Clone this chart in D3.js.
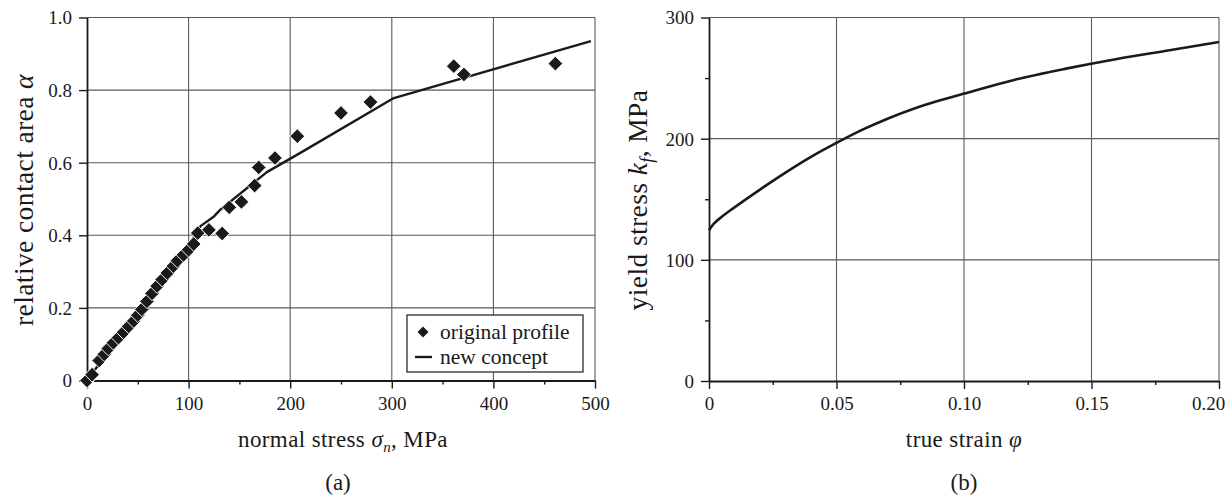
<!DOCTYPE html>
<html>
<head>
<meta charset="utf-8">
<script src="https://cdn.jsdelivr.net/npm/d3@7"></script>
<style>
  html, body { margin: 0; padding: 0; background: #fff; }
  svg text { font-family: "Liberation Serif", "DejaVu Serif", serif; fill: #1a1a1a; }
</style>
</head>
<body>
<svg id="fig" width="1232" height="498"></svg>
<script>
// ---- panel (a): relative contact area vs normal stress ----
const profileStress = [0, 5, 12, 17, 21, 26, 31, 36, 41, 46, 50, 54, 59, 64, 69, 74, 79, 85, 89, 95, 100, 105, 109, 120, 133, 140, 152, 165, 169, 185, 207, 250, 279, 361, 371, 461];
const profileArea   = [0, 0.016, 0.055, 0.072, 0.088, 0.104, 0.118, 0.133, 0.149, 0.164, 0.180, 0.196, 0.218, 0.240, 0.260, 0.278, 0.296, 0.315, 0.330, 0.346, 0.360, 0.376, 0.406, 0.415, 0.405, 0.477, 0.492, 0.537, 0.587, 0.613, 0.673, 0.737, 0.767, 0.866, 0.843, 0.873];
const conceptStress = [0, 50, 100, 112, 125, 131, 177, 210, 302, 496];
const conceptArea   = [0, 0.19, 0.372, 0.426, 0.452, 0.47, 0.574, 0.627, 0.778, 0.935];
const stressTicks = [0, 100, 200, 300, 400, 500];
const stressMinor = [50, 150, 250, 350, 450];
const stressTickLabels = ["0", "100", "200", "300", "400", "500"];
const areaTicks = [0, 0.2, 0.4, 0.6, 0.8, 1.0];
const areaTickLabels = ["0", "0.2", "0.4", "0.6", "0.8", "1.0"];

// ---- panel (b): flow curve ----
const strain = [0, 0.002, 0.005, 0.01, 0.02, 0.03, 0.04, 0.05, 0.06, 0.07, 0.08, 0.09, 0.10, 0.12, 0.14, 0.16, 0.18, 0.20];
const yieldStress = [124.5, 130, 135.5, 143.3, 158, 172, 185, 196.5, 207.2, 216.5, 224.5, 231.2, 237.2, 248.7, 257.8, 265.8, 272.8, 279.8];
const strainTicks = [0, 0.05, 0.10, 0.15, 0.20];
const strainMinor = [0.025, 0.075, 0.125, 0.175];
const strainTickLabels = ["0", "0.05", "0.10", "0.15", "0.20"];
const kfTicks = [0, 100, 200, 300];
const kfMinor = [50, 150, 250];
const kfTickLabels = ["0", "100", "200", "300"];

const svg = d3.select("#fig");
const FONT = '"Liberation Serif", "DejaVu Serif", serif';
const FS = 19;

function panel(opts) {
  const g = svg.append("g");
  const x = opts.x, y = opts.y;
  const [x0, x1] = x.range();
  const [y0, y1] = y.range();

  // grid
  g.append("g").selectAll("line").data(opts.xTicks.slice(1)).join("line")
    .attr("x1", d => x(d)).attr("x2", d => x(d)).attr("y1", y0).attr("y2", y1)
    .attr("stroke", "#5a5a5a").attr("stroke-width", 1.1);
  g.append("g").selectAll("line").data(opts.yTicks.slice(1)).join("line")
    .attr("y1", d => y(d)).attr("y2", d => y(d)).attr("x1", x0).attr("x2", x1)
    .attr("stroke", "#5a5a5a").attr("stroke-width", 1.1);

  // bottom axis
  const xa = g.append("g").attr("transform", `translate(0,${y0})`)
    .call(d3.axisBottom(x).tickValues(opts.xTicks).tickSize(8).tickSizeOuter(0)
      .tickFormat((d, i) => opts.xLabels[i]));
  const xm = g.append("g").attr("transform", `translate(0,${y0})`)
    .call(d3.axisBottom(x).tickValues(opts.xMinor).tickSize(4).tickFormat(""));
  xm.select(".domain").remove();
  // left axis
  const ya = g.append("g").attr("transform", `translate(${x0},0)`)
    .call(d3.axisLeft(y).tickValues(opts.yTicks).tickSize(8).tickSizeOuter(0)
      .tickFormat((d, i) => opts.yLabels[i]));
  if (opts.yMinor) {
    const ym = g.append("g").attr("transform", `translate(${x0},0)`)
      .call(d3.axisLeft(y).tickValues(opts.yMinor).tickSize(4).tickFormat(""));
    ym.select(".domain").remove();
  }
  [xa, ya].forEach(a => {
    a.attr("font-family", FONT);
    a.select(".domain").attr("stroke", "#1a1a1a").attr("stroke-width", 1.8);
  });
  g.selectAll(".tick line").attr("stroke", "#1a1a1a").attr("stroke-width", 1.4);
  g.selectAll(".tick text").attr("font-size", FS).style("font-family", FONT).attr("fill", "#1a1a1a");
  xa.selectAll(".tick text").attr("dy", null).attr("y", 29);
  ya.selectAll(".tick text").attr("x", -15).attr("dy", "0.34em");
  // keep the last x label inside the figure
  if (opts.lastLabelShift) {
    xa.selectAll(".tick text").filter((d, i, n) => i === n.length - 1).attr("x", -opts.lastLabelShift);
  }
  return g;
}

// ---------- (a) ----------
const xA = d3.scaleLinear().domain([0, 500]).range([87, 595]);
const yA = d3.scaleLinear().domain([0, 1]).range([380.5, 17.5]);
const gA = panel({ x: xA, y: yA, xTicks: stressTicks, xMinor: stressMinor, xLabels: stressTickLabels,
  yTicks: areaTicks, yLabels: areaTickLabels });

const concept = conceptStress.map((s, i) => [s, conceptArea[i]]);
gA.append("path").datum(concept)
  .attr("fill", "none").attr("stroke", "#1a1a1a").attr("stroke-width", 2.4)
  .attr("stroke-linejoin", "round")
  .attr("d", d3.line().x(d => xA(d[0])).y(d => yA(d[1])));

const diamond = d3.symbol(d3.symbolSquare, 108);
gA.append("g").selectAll("path").data(profileStress.map((s, i) => [s, profileArea[i]])).join("path")
  .attr("d", diamond)
  .attr("transform", d => `translate(${xA(d[0])},${yA(d[1])}) rotate(45)`)
  .attr("fill", "#1a1a1a").attr("stroke", "#fff").attr("stroke-width", 0.9);

// legend
const lg = gA.append("g");
lg.append("rect").attr("x", 407).attr("y", 315).attr("width", 176).attr("height", 57)
  .attr("fill", "#fff").attr("stroke", "#1a1a1a").attr("stroke-width", 1.2);
lg.append("path").attr("d", d3.symbol(d3.symbolSquare, 60))
  .attr("transform", "translate(423,332) rotate(45)").attr("fill", "#1a1a1a");
lg.append("line").attr("x1", 415).attr("x2", 432).attr("y1", 357).attr("y2", 357)
  .attr("stroke", "#1a1a1a").attr("stroke-width", 2.4);
lg.append("text").attr("x", 440).attr("y", 339).attr("font-size", 21.5).text("original profile");
lg.append("text").attr("x", 440).attr("y", 364).attr("font-size", 21.5).text("new concept");

// axis titles (a)
const tA = svg.append("text").attr("x", 343).attr("y", 447).attr("text-anchor", "middle")
  .attr("font-size", 23).attr("letter-spacing", 0.4);
tA.append("tspan").text("normal stress ");
tA.append("tspan").attr("font-style", "italic").text("σ");
tA.append("tspan").attr("font-style", "italic").attr("font-size", 15).attr("dy", 5).text("n");
tA.append("tspan").attr("dy", -5).text(", MPa");
svg.append("text").attr("x", 338).attr("y", 490).attr("text-anchor", "middle").attr("font-size", 23).text("(a)");

const lA = svg.append("text").attr("transform", "translate(33,200) rotate(-90)")
  .attr("text-anchor", "middle").attr("font-size", 27.5).attr("letter-spacing", 0.4);
lA.append("tspan").text("relative contact area ");
lA.append("tspan").attr("font-style", "italic").text("α");

// ---------- (b) ----------
const xB = d3.scaleLinear().domain([0, 0.2]).range([709, 1219]);
const yB = d3.scaleLinear().domain([0, 300]).range([381, 17.5]);
const gB = panel({ x: xB, y: yB, xTicks: strainTicks, xMinor: strainMinor, xLabels: strainTickLabels,
  yTicks: kfTicks, yMinor: kfMinor, yLabels: kfTickLabels, lastLabelShift: 11 });

gB.append("path").datum(strain.map((e, i) => [e, yieldStress[i]]))
  .attr("fill", "none").attr("stroke", "#1a1a1a").attr("stroke-width", 2.6)
  .attr("d", d3.line().curve(d3.curveMonotoneX).x(d => xB(d[0])).y(d => yB(d[1])));

const tB = svg.append("text").attr("x", 964).attr("y", 447).attr("text-anchor", "middle")
  .attr("font-size", 23).attr("letter-spacing", 0.4);
tB.append("tspan").text("true strain ");
tB.append("tspan").attr("font-style", "italic").text("φ");
svg.append("text").attr("x", 964).attr("y", 490).attr("text-anchor", "middle").attr("font-size", 23).text("(b)");

const lB = svg.append("text").attr("transform", "translate(647,200) rotate(-90)")
  .attr("text-anchor", "middle").attr("font-size", 27.5).attr("letter-spacing", 0.4);
lB.append("tspan").text("yield stress ");
lB.append("tspan").attr("font-style", "italic").text("k");
lB.append("tspan").attr("font-style", "italic").attr("font-size", 18).attr("dy", 6).text("f");
lB.append("tspan").attr("dy", -6).text(", MPa");
</script>
</body>
</html>
